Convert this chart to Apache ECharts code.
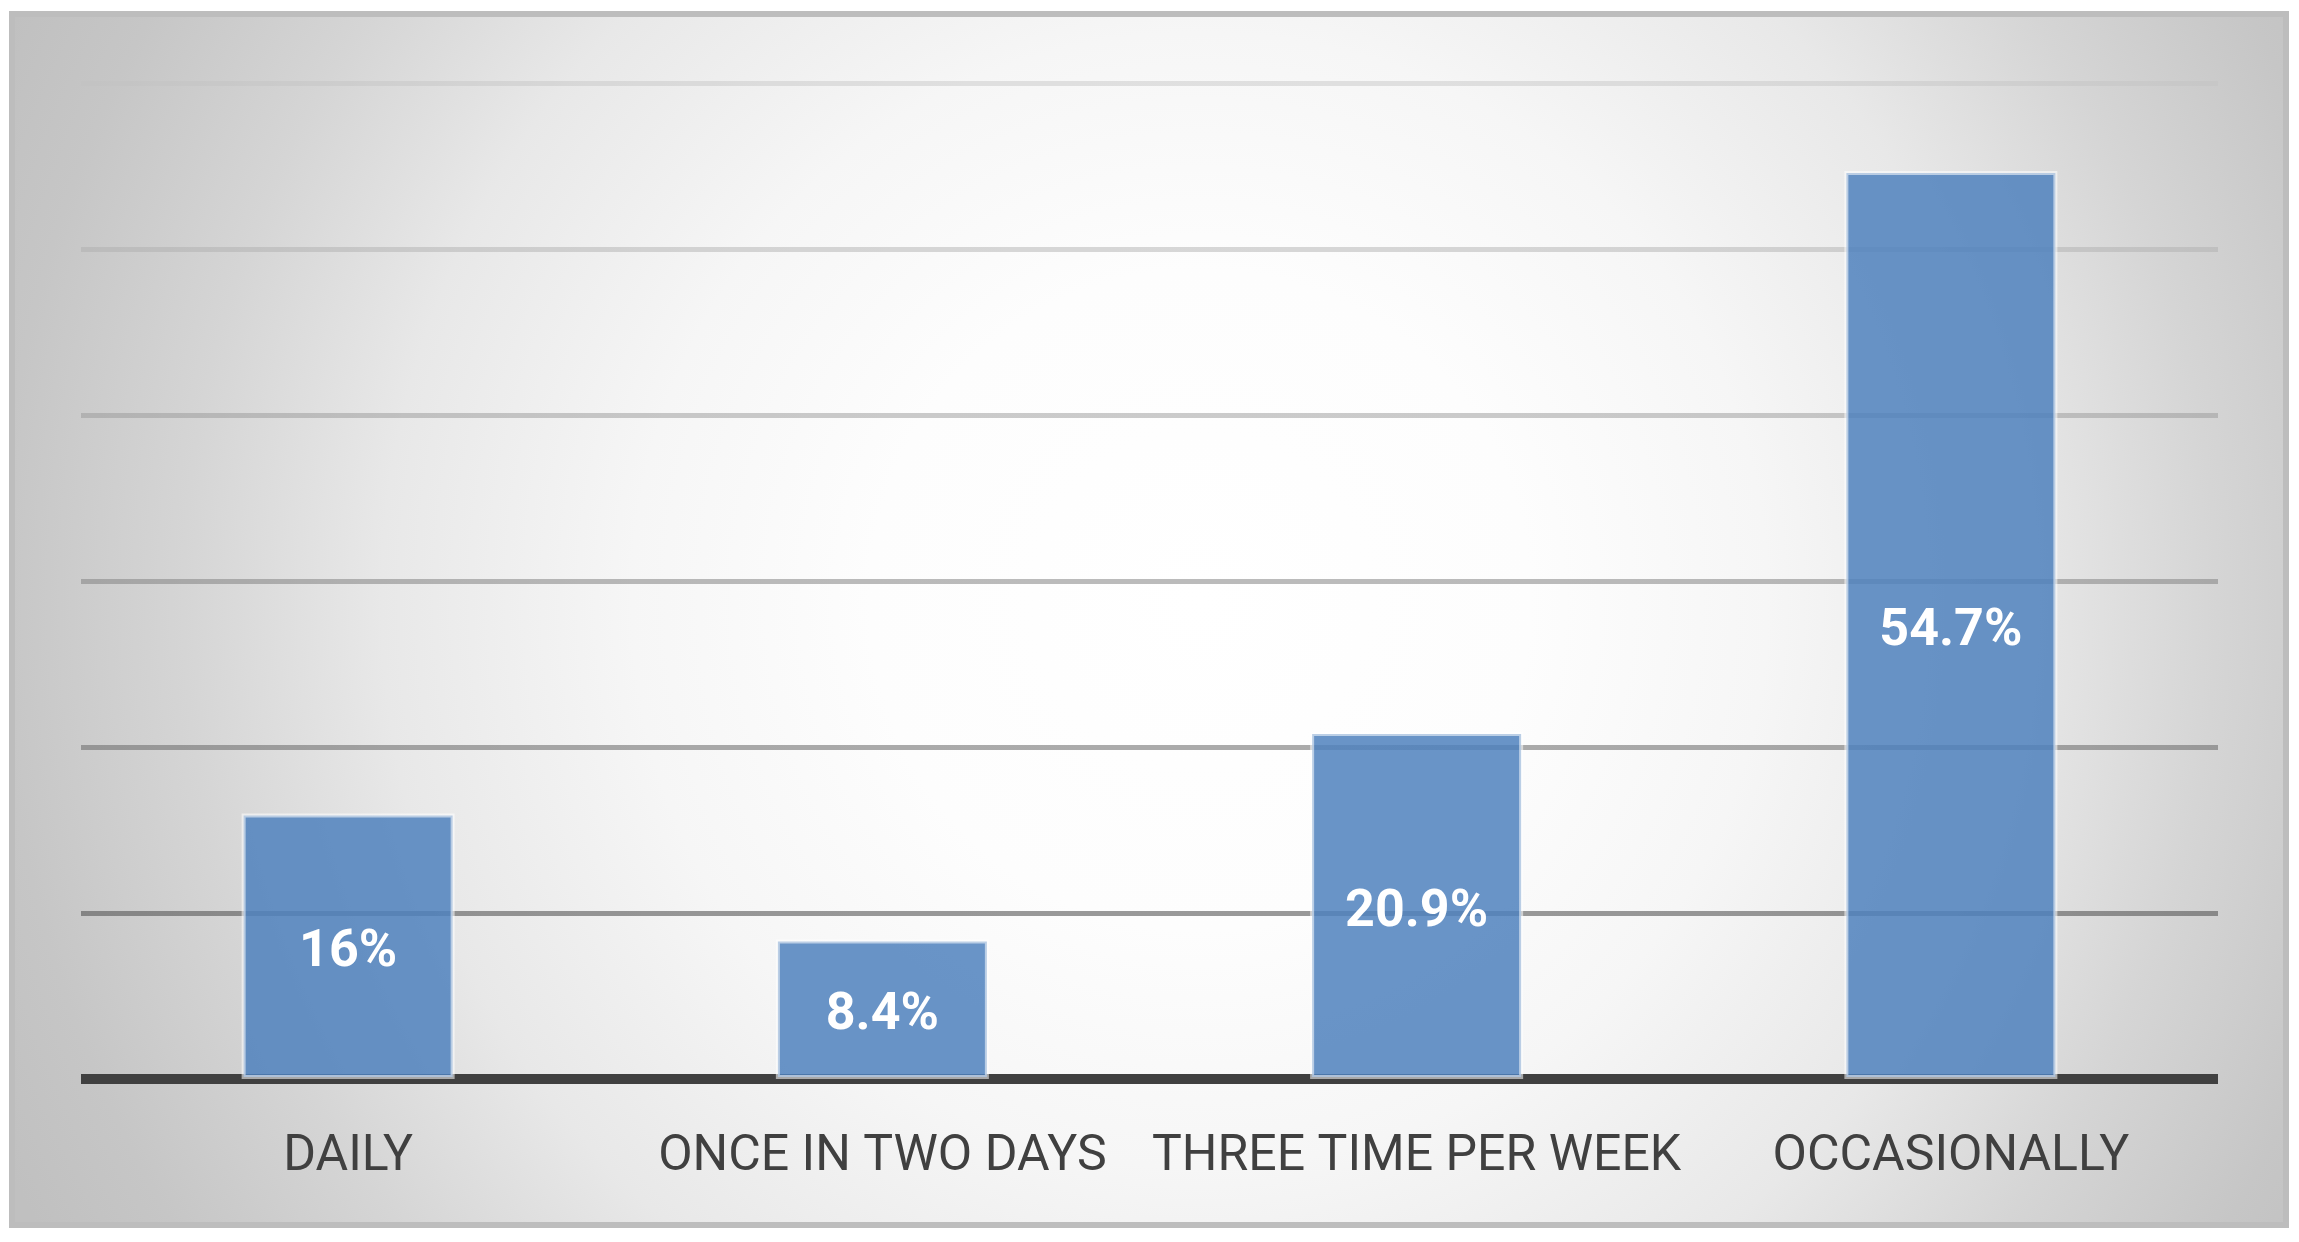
<!DOCTYPE html>
<html>
<head>
<meta charset="utf-8">
<title>Frequency</title>
<script src="https://cdn.jsdelivr.net/npm/echarts@6/dist/echarts.min.js"></script>
<style>
    html, body { margin: 0; padding: 0; background: #ffffff; }
    #chart1 { width: 2299px; height: 1242px; }
</style>
</head>
<body>
<div id="chart1"></div>
<script>
var categories = ['DAILY', 'ONCE IN TWO DAYS', 'THREE TIME PER WEEK', 'OCCASIONALLY'];
var percentages = [16, 8.4, 20.9, 54.7];
var yMin = 0, yMax = 60, yStep = 10;

// gridlines get darker towards the bottom (first one sits under the axis)
var gridColors = [
    'rgba(64,64,64,1)',
    'rgba(87,87,87,0.6)',
    'rgba(108,108,108,0.57)',
    'rgba(130,130,130,0.54)',
    'rgba(151,151,151,0.5)',
    'rgba(173,173,173,0.47)',
    'rgba(194,194,194,0.44)'
];

var chartDom1 = document.getElementById('chart1');
var myChart1 = echarts.init(chartDom1);
var option1;

option1 = {
    backgroundColor: '#ffffff',
    animation: false,
    graphic: [
        {
            type: 'rect',
            z: -10,
            silent: true,
            shape: { x: 12, y: 14, width: 2274, height: 1211 },
            style: {
                fill: {
                    type: 'radial',
                    x: 1200, y: 600, r: 1320,
                    global: true,
                    colorStops: [
                        { offset: 0, color: '#ffffff' },
                        { offset: 0.25, color: '#fdfdfd' },
                        { offset: 0.43, color: '#f6f6f6' },
                        { offset: 0.62, color: '#e8e8e8' },
                        { offset: 0.77, color: '#d5d5d5' },
                        { offset: 0.91, color: '#c6c6c6' },
                        { offset: 1, color: '#c0c0c0' }
                    ]
                },
                stroke: '#bdbdbd',
                lineWidth: 6
            }
        }
    ],
    grid: {
        left: 81,
        right: 81,
        top: 83,
        bottom: 163
    },
    xAxis: {
        type: 'category',
        data: categories,
        axisLine: {
            show: true,
            lineStyle: { color: '#404040', width: 10, cap: 'butt' }
        },
        axisTick: { show: false },
        axisLabel: {
            interval: 0,
            margin: 53,
            color: '#404040',
            fontSize: 50,
            fontFamily: 'Roboto'
        }
    },
    yAxis: {
        type: 'value',
        min: yMin,
        max: yMax,
        interval: yStep,
        axisLine: { show: false },
        axisTick: { show: false },
        axisLabel: { show: false },
        splitLine: {
            show: true,
            lineStyle: { color: gridColors, width: 5 }
        }
    },
    series: [
        {
            name: 'Frequency',
            type: 'bar',
            data: percentages,
            barWidth: 213,
            itemStyle: {
                color: 'rgba(79,129,189,0.85)',
                borderColor: 'rgba(255,255,255,0.55)',
                borderWidth: 4
            },
            label: {
                show: true,
                position: 'inside',
                offset: [0, 7],
                formatter: '{c}%',
                color: '#ffffff',
                fontSize: 52,
                fontWeight: 'bold',
                fontFamily: 'Roboto'
            }
        }
    ]
};

option1 && myChart1.setOption(option1);

window.addEventListener('resize', myChart1.resize);
</script>
</body>
</html>
